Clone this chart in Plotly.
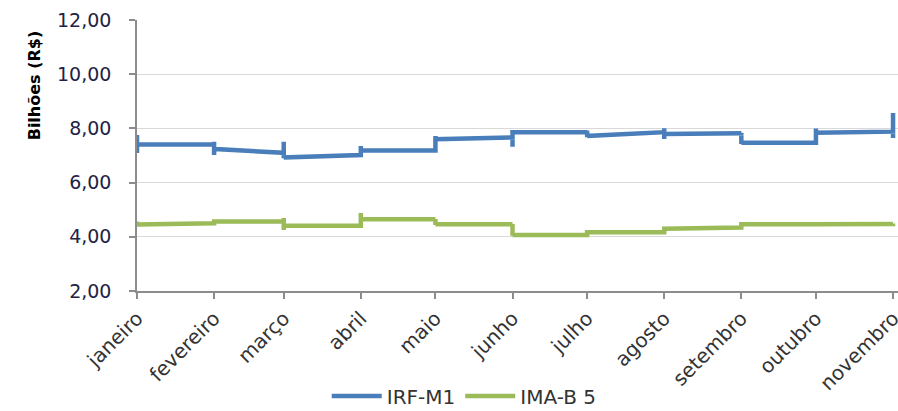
import plotly.graph_objects as go

# --- data ---
months = ["janeiro", "fevereiro", "março", "abril", "maio", "junho",
          "julho", "agosto", "setembro", "outubro", "novembro"]
month_dates = ["2013-01-01", "2013-02-01", "2013-03-01", "2013-04-01", "2013-05-01",
               "2013-06-01", "2013-07-01", "2013-08-01", "2013-09-01", "2013-10-01",
               "2013-11-01"]

# IRF-M1: level just after each month start, level just before month end,
# and the daily extremes on each month-boundary day
irf_open = [7.41, 7.24, 6.93, 7.18, 7.60, 7.86, 7.72, 7.79, 7.47, 7.84]
irf_close = [7.41, 7.10, 7.02, 7.18, 7.67, 7.86, 7.86, 7.82, 7.47, 7.88]
irf_hi = [7.76, 7.51, 7.51, 7.35, 7.72, 7.88, 7.92, 8.01, 7.84, 8.00, 8.57]
irf_lo = [7.09, 7.02, 6.90, 6.96, 7.14, 7.32, 7.67, 7.61, 7.42, 7.45, 7.65]

# IMA-B 5
ima_open = [4.45, 4.56, 4.41, 4.65, 4.46, 4.07, 4.17, 4.30, 4.46, 4.46]
ima_close = [4.50, 4.56, 4.41, 4.65, 4.46, 4.07, 4.17, 4.34, 4.46, 4.47]
ima_hi = [4.56, 4.56, 4.69, 4.88, 4.66, 4.47, 4.20, 4.34, 4.48, 4.47, 4.49]
ima_lo = [4.37, 4.48, 4.25, 4.37, 4.44, 4.04, 4.06, 4.16, 4.33, 4.45, 4.44]

y_ticks = [2, 4, 6, 8, 10, 12]


def build_path(opens, closes, his, los):
    xs, ys = [], []
    n = len(month_dates)
    for i, d in enumerate(month_dates):
        if i > 0:
            xs.append(d); ys.append(closes[i - 1])
        xs += [d, d]; ys += [his[i], los[i]]
        if i < n - 1:
            xs.append(d); ys.append(opens[i])
    return xs, ys


BLUE = "#4a7ebb"
GREEN = "#9bbb59"

fig = go.Figure()
x1, y1 = build_path(irf_open, irf_close, irf_hi, irf_lo)
fig.add_trace(go.Scatter(x=x1, y=y1, mode="lines", name="IRF-M1",
                         line=dict(color=BLUE, width=4.5)))
x2, y2 = build_path(ima_open, ima_close, ima_hi, ima_lo)
fig.add_trace(go.Scatter(x=x2, y=y2, mode="lines", name="IMA-B 5",
                         line=dict(color=GREEN, width=4.5)))

fig.update_layout(
    width=898, height=411,
    margin=dict(l=137, r=0, t=20, b=120, autoexpand=False),
    plot_bgcolor="white", paper_bgcolor="white",
    separators=",.",
    showlegend=True,
    legend=dict(orientation="h", x=0.43, xanchor="center", y=-0.387, yanchor="middle",
                font=dict(family="DejaVu Sans", size=20, color="#333333"),
                itemwidth=50, tracegroupgap=0),
    font=dict(family="DejaVu Sans", color="#222222"),
)

fig.update_xaxes(
    type="date",
    range=["2013-01-01", "2013-11-03"],
    tickvals=month_dates, ticktext=months,
    tickangle=-45,
    ticklabeloverflow="allow",
    tickfont=dict(family="DejaVu Sans", size=20, color="#333333"),
    showgrid=False,
    showline=True, linecolor="#8c8c8c", linewidth=1.5,
    ticks="outside", ticklen=6, tickcolor="#8c8c8c", tickwidth=1.5,
    zeroline=False,
)
fig.update_yaxes(
    range=[2, 12],
    tickvals=y_ticks, tickformat=".2f",
    tickfont=dict(family="DejaVu Sans", size=19, color="#222244"),
    ticklabelstandoff=14,
    showgrid=True, gridcolor="#d9d9d9", gridwidth=1,
    showline=True, linecolor="#8c8c8c", linewidth=1.5,
    ticks="outside", ticklen=6, tickcolor="#8c8c8c", tickwidth=1.5,
    zeroline=False,
)

fig.add_annotation(
    text="<b>Bilhões (R$)</b>", textangle=-90,
    xref="paper", yref="paper", x=-0.135, y=0.76,
    xanchor="center", yanchor="middle", showarrow=False,
    font=dict(family="DejaVu Sans", size=16, color="#000000"),
)

fig.write_html(
    "out.html",
    config={"displayModeBar": False},
    post_script="document.body.style.margin='0';"
                "document.documentElement.style.overflow='hidden';",
)
